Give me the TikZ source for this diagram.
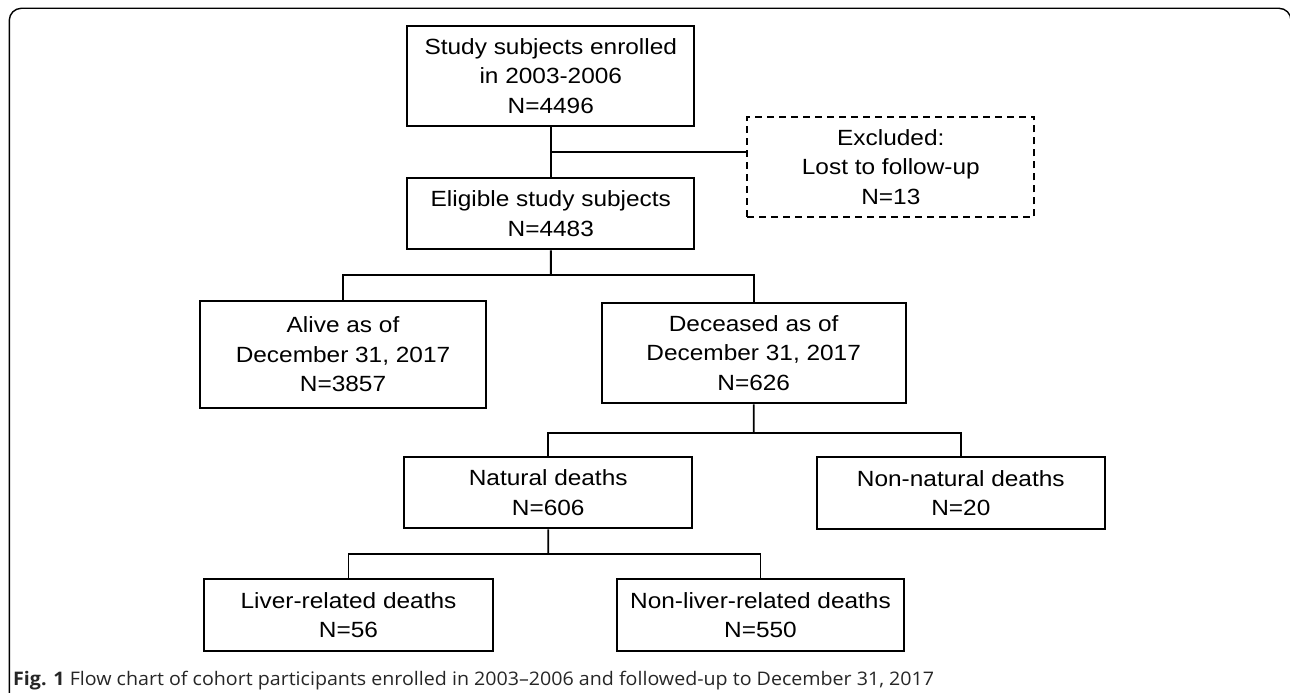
\documentclass[tikz,border=0pt]{standalone}
\usepackage{fontspec}
\setmainfont{Liberation Sans}
\newfontfamily\boxfont[FakeStretch=1.11]{Liberation Sans}
\newfontfamily\capfont[FakeStretch=1.05]{Open Sans}
\usetikzlibrary{calc}
\begin{document}
\begin{tikzpicture}[x=1pt,y=-1pt,
  box/.style={draw, line width=1.9pt, inner sep=0pt, align=center,
    font=\boxfont\fontsize{22}{29.5}\selectfont},
  dbox/.style={box, dashed, dash pattern=on 7pt off 5pt},
  conn/.style={line width=1.9pt}]
\useasboundingbox (0,0) rectangle (1290,693);
\draw[line width=1.4pt, rounded corners=12pt] (9.3,700) -- (9.3,8.3) -- (1291,8.3) -- (1291,700);

\node[box, minimum width=287, minimum height=100.3] (box1) at (550.8,75.9)
  {Study subjects enrolled\\in 2003-2006\\N=4496};
\node[box, minimum width=287, minimum height=71] (box2) at (550.8,213.8)
  {Eligible study subjects\\N=4483};
\node[dbox, minimum width=287, minimum height=100.6] (excl) at (890.8,167)
  {Excluded:\\Lost to follow-up\\N=13};
\node[box, minimum width=286, minimum height=107.6] (alive) at (343,354.5)
  {Alive as of\\December 31, 2017\\N=3857};
\node[box, minimum width=304, minimum height=100.6] (dec) at (753.7,353)
  {Deceased as of\\December 31, 2017\\N=626};
\node[box, minimum width=288.3, minimum height=71.3] (nat) at (548.2,492.7)
  {Natural deaths\\N=606};
\node[box, minimum width=288.3, minimum height=72] (nonnat) at (960.8,493)
  {Non-natural deaths\\N=20};
\node[box, minimum width=288.4, minimum height=71.4] (liver) at (348.5,615)
  {Liver-related deaths\\N=56};
\node[box, minimum width=287.6, minimum height=71.4] (nonliver) at (760.5,615)
  {Non-liver-related deaths\\N=550};

\coordinate (j0) at ($(box1.south)!0.5!(box2.north)$);
\coordinate (j1) at ($(box2.south)!0.5!(box2.south |- alive.north)$);
\coordinate (j2) at ($(dec.south)!0.55!(dec.south |- nat.north)$);
\coordinate (j3) at ($(nat.south)!0.5!(nat.south |- liver.north)$);

\draw[conn] (box1.south) -- (box2.north);
\draw[conn] (j0) -- (j0 -| excl.west);
\draw[conn] (box2.south) -- (j1);
\draw[conn] (alive.north) |- (j1) -| (dec.north);
\draw[conn] (dec.south) -- (j2);
\draw[conn] (nat.north) |- (j2) -| (nonnat.north);
\draw[conn] (nat.south) -- (j3);
\draw[conn] (liver.north) |- (j3) -| (nonliver.north);

\node[anchor=base west, inner sep=0pt, text=black!85, font=\capfont\fontsize{18.7}{22}\selectfont] (cap) at (13,685)
  {\textbf{Fig. 1} Flow chart of cohort participants enrolled in 2003–2006 and followed-up to December 31, 2017};
\end{tikzpicture}
\end{document}
